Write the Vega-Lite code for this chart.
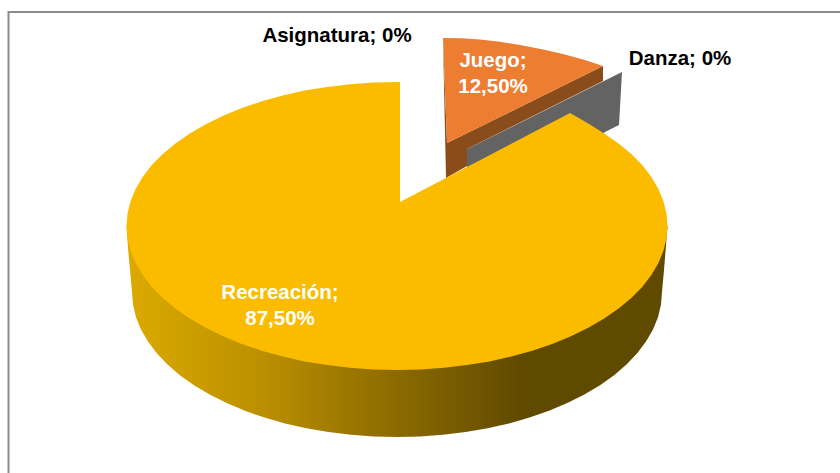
{"$schema":"https://vega.github.io/schema/vega-lite/v6.json","width":840,"height":473,"autosize":"none","padding":0,"background":"white","view":{"stroke":null},
"datasets":{"outline":[
{"s":"frame","x":8.5,"y":473},{"s":"frame","x":8.5,"y":12},{"s":"frame","x":840,"y":12},
{"s":"wall","x":126.5,"y":226},{"s":"wall","x":397,"y":300},{"s":"wall","x":667.5,"y":226},{"s":"wall","x":666,"y":245},{"s":"wall","x":664,"y":270},{"s":"wall","x":662,"y":292},{"s":"wall","x":661,"y":304.6},{"s":"wall","x":658,"y":317.2},{"s":"wall","x":653,"y":329.5},{"s":"wall","x":646,"y":341.6},{"s":"wall","x":637.2,"y":353.3},{"s":"wall","x":626.5,"y":364.5},{"s":"wall","x":614.1,"y":375.2},{"s":"wall","x":600,"y":385.2},{"s":"wall","x":584.4,"y":394.5},{"s":"wall","x":567.3,"y":403},{"s":"wall","x":549,"y":410.8},{"s":"wall","x":529.5,"y":417.6},{"s":"wall","x":509,"y":423.4},{"s":"wall","x":487.6,"y":428.3},{"s":"wall","x":465.6,"y":432.1},{"s":"wall","x":443,"y":434.8},{"s":"wall","x":420.1,"y":436.4},{"s":"wall","x":397,"y":437},{"s":"wall","x":373.9,"y":436.4},{"s":"wall","x":351,"y":434.8},{"s":"wall","x":328.4,"y":432.1},{"s":"wall","x":306.4,"y":428.3},{"s":"wall","x":285,"y":423.4},{"s":"wall","x":264.5,"y":417.6},{"s":"wall","x":245,"y":410.8},{"s":"wall","x":226.7,"y":403},{"s":"wall","x":209.6,"y":394.5},{"s":"wall","x":194,"y":385.2},{"s":"wall","x":179.9,"y":375.2},{"s":"wall","x":167.5,"y":364.5},{"s":"wall","x":156.8,"y":353.3},{"s":"wall","x":148,"y":341.6},{"s":"wall","x":141,"y":329.5},{"s":"wall","x":136,"y":317.2},{"s":"wall","x":133,"y":304.6},{"s":"wall","x":132,"y":292},{"s":"wall","x":130,"y":270},{"s":"wall","x":128,"y":248},{"s":"wall","x":126.5,"y":226},
{"s":"gray","x":467,"y":149},{"s":"gray","x":622,"y":72},{"s":"gray","x":619,"y":125},{"s":"gray","x":605,"y":132},{"s":"gray","x":560,"y":170},{"s":"gray","x":467,"y":190},{"s":"gray","x":467,"y":149},
{"s":"brown","x":443,"y":38},{"s":"brown","x":447,"y":143},{"s":"brown","x":603,"y":66},{"s":"brown","x":603,"y":81},{"s":"brown","x":467,"y":149},{"s":"brown","x":467,"y":166},{"s":"brown","x":446,"y":178},{"s":"brown","x":443,"y":38},
{"s":"orange","x":443,"y":38},{"s":"orange","x":462,"y":38.3},{"s":"orange","x":480,"y":39.5},{"s":"orange","x":500,"y":41.8},{"s":"orange","x":520,"y":45},{"s":"orange","x":542,"y":49.2},{"s":"orange","x":563,"y":54},{"s":"orange","x":584,"y":59.7},{"s":"orange","x":603,"y":66},{"s":"orange","x":447,"y":143},{"s":"orange","x":443,"y":38},
{"s":"top","x":400,"y":202},{"s":"top","x":400,"y":82},{"s":"top","x":373.4,"y":82.5},{"s":"top","x":350,"y":84.2},{"s":"top","x":327,"y":86.9},{"s":"top","x":304.5,"y":90.6},{"s":"top","x":282.7,"y":95.5},{"s":"top","x":261.7,"y":101.3},{"s":"top","x":241.8,"y":108},{"s":"top","x":223.1,"y":115.7},{"s":"top","x":205.7,"y":124.2},{"s":"top","x":189.8,"y":133.4},{"s":"top","x":175.4,"y":143.4},{"s":"top","x":162.7,"y":154},{"s":"top","x":151.8,"y":165.1},{"s":"top","x":142.8,"y":176.8},{"s":"top","x":135.7,"y":188.7},{"s":"top","x":130.6,"y":201},{"s":"top","x":127.5,"y":213.4},{"s":"top","x":126.5,"y":226},{"s":"top","x":127.5,"y":238.6},{"s":"top","x":130.6,"y":251},{"s":"top","x":135.7,"y":263.3},{"s":"top","x":142.8,"y":275.2},{"s":"top","x":151.8,"y":286.9},{"s":"top","x":162.7,"y":298},{"s":"top","x":175.4,"y":308.6},{"s":"top","x":189.8,"y":318.6},{"s":"top","x":205.7,"y":327.8},{"s":"top","x":223.1,"y":336.3},{"s":"top","x":241.8,"y":344},{"s":"top","x":261.7,"y":350.7},{"s":"top","x":282.7,"y":356.5},{"s":"top","x":304.5,"y":361.4},{"s":"top","x":327,"y":365.1},{"s":"top","x":350,"y":367.8},{"s":"top","x":373.4,"y":369.5},{"s":"top","x":397,"y":370},{"s":"top","x":420.6,"y":369.5},{"s":"top","x":444,"y":367.8},{"s":"top","x":467,"y":365.1},{"s":"top","x":489.5,"y":361.4},{"s":"top","x":511.3,"y":356.5},{"s":"top","x":532.3,"y":350.7},{"s":"top","x":552.2,"y":344},{"s":"top","x":570.9,"y":336.3},{"s":"top","x":588.3,"y":327.8},{"s":"top","x":604.2,"y":318.6},{"s":"top","x":618.6,"y":308.6},{"s":"top","x":631.3,"y":298},{"s":"top","x":642.2,"y":286.9},{"s":"top","x":651.2,"y":275.2},{"s":"top","x":658.3,"y":263.3},{"s":"top","x":663.4,"y":251},{"s":"top","x":666.5,"y":238.6},{"s":"top","x":667.5,"y":226},{"s":"top","x":666.5,"y":213.4},{"s":"top","x":663.4,"y":201},{"s":"top","x":658.3,"y":188.7},{"s":"top","x":651.2,"y":176.8},{"s":"top","x":642.2,"y":165.1},{"s":"top","x":631.3,"y":154},{"s":"top","x":618.6,"y":143.4},{"s":"top","x":604.2,"y":133.4},{"s":"top","x":588.3,"y":123.5},{"s":"top","x":570,"y":113},{"s":"top","x":400,"y":202}
],"labels":[
{"categoria":"Asignatura","texto":"Asignatura;  0%","c":"black","x":337,"y":36},
{"categoria":"Danza","texto":"Danza; 0%","c":"black","x":680,"y":59},
{"categoria":"Juego","texto":"Juego;\n12,50%","c":"white","x":493,"y":61},
{"categoria":"Recreación","texto":"Recreación;\n87,50%","c":"white","x":280,"y":293}
]},
"encoding":{"x":{"field":"x","type":"quantitative","scale":{"domain":[0,840],"nice":false,"zero":false},"axis":null},"y":{"field":"y","type":"quantitative","scale":{"domain":[473,0],"nice":false,"zero":false},"axis":null}},
"layer":[
{"data":{"name":"outline"},"transform":[{"filter":"datum.s=='frame'"},{"window":[{"op":"row_number","as":"i"}]}],"mark":{"type":"line","stroke":"#8c8c8c","strokeWidth":2,"clip":false},"encoding":{"order":{"field":"i","type":"quantitative"}}},
{"data":{"name":"outline"},"transform":[{"filter":"datum.s=='wall'"},{"window":[{"op":"row_number","as":"i"}]}],"mark":{"type":"line","strokeWidth":0,"fill":{"gradient":"linear","x1":0,"x2":1,"y1":0,"y2":0,"stops":[{"offset":0,"color":"#dcaa00"},{"offset":0.25,"color":"#bb9000"},{"offset":0.5,"color":"#8b6a00"},{"offset":0.73,"color":"#604a00"},{"offset":1,"color":"#604a00"}]}},"encoding":{"order":{"field":"i","type":"quantitative"}}},
{"data":{"name":"outline"},"transform":[{"filter":"datum.s=='gray'"},{"window":[{"op":"row_number","as":"i"}]}],"mark":{"type":"line","strokeWidth":0,"fill":"#636363"},"encoding":{"order":{"field":"i","type":"quantitative"}}},
{"data":{"name":"outline"},"transform":[{"filter":"datum.s=='brown'"},{"window":[{"op":"row_number","as":"i"}]}],"mark":{"type":"line","strokeWidth":0,"fill":"#8b4c1c"},"encoding":{"order":{"field":"i","type":"quantitative"}}},
{"data":{"name":"outline"},"transform":[{"filter":"datum.s=='orange'"},{"window":[{"op":"row_number","as":"i"}]}],"mark":{"type":"line","strokeWidth":0,"fill":"#ed7d31"},"encoding":{"order":{"field":"i","type":"quantitative"}}},
{"data":{"name":"outline"},"transform":[{"filter":"datum.s=='top'"},{"window":[{"op":"row_number","as":"i"}]}],"mark":{"type":"line","strokeWidth":0,"fill":"#fbbc00"},"encoding":{"order":{"field":"i","type":"quantitative"}}},
{"data":{"name":"labels"},"mark":{"type":"text","font":"Liberation Sans","fontWeight":"bold","fontSize":20.5,"lineBreak":"\n","lineHeight":26,"baseline":"middle","align":"center"},"encoding":{"text":{"field":"texto"},"color":{"field":"c","type":"nominal","scale":null}}}
]}
